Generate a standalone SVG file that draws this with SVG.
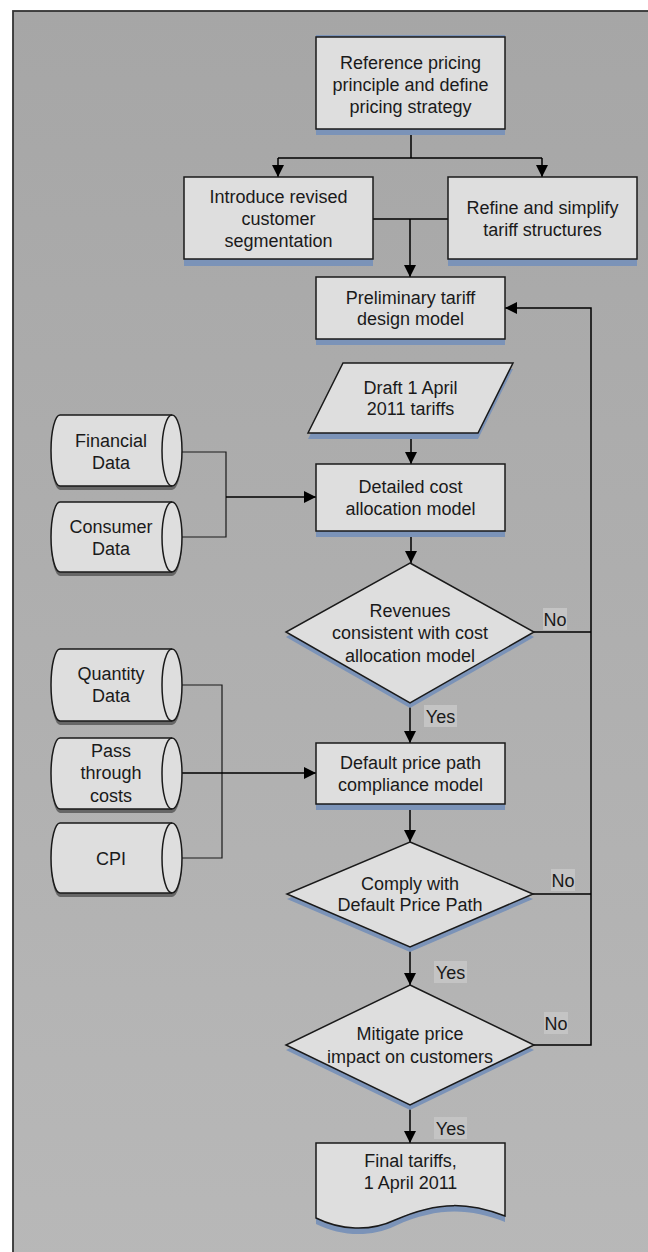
<svg xmlns="http://www.w3.org/2000/svg" width="648" height="1252" viewBox="0 0 648 1252">
<defs>
<linearGradient id="bg" x1="0" y1="0" x2="0" y2="1">
<stop offset="0" stop-color="#a6a6a6"/>
<stop offset="1" stop-color="#b8b8b8"/>
</linearGradient>
<marker id="arr" viewBox="0 0 12 12" refX="12" refY="6" markerWidth="12" markerHeight="12" markerUnits="userSpaceOnUse" orient="auto">
<path d="M0,0 L12,6 L0,12 Z" fill="#000"/>
</marker>
</defs>
<style>
.box{fill:#dedede;stroke:#1a1a1a;stroke-width:1.5}
.sh{fill:#7b93b8}
.csh{fill:#666}
.t{font-family:"Liberation Sans",Arial,sans-serif;font-size:18px;fill:#1a1a1a;text-anchor:middle}
.lbl{fill:#c4c4c4}
.c{fill:none;stroke:#000;stroke-width:1.5}
.ci{fill:none;stroke:#1a1a1a;stroke-width:1.2}
.edge{fill:none;stroke:#1a1a1a;stroke-width:1.5}
</style>
<rect x="0" y="0" width="648" height="1252" fill="#fff"/>
<rect x="13" y="11" width="660" height="1260" fill="url(#bg)" stroke="#333" stroke-width="1.8"/>

<g id="connectors">
<path class="c" d="M411,129 V158 M278,158 H542"/>
<path class="c" d="M278,158 V177" marker-end="url(#arr)"/>
<path class="c" d="M542,158 V177" marker-end="url(#arr)"/>
<path class="c" d="M373,219 H448"/>
<path class="c" d="M410,219 V277" marker-end="url(#arr)"/>
<path class="c" d="M411,433 V464" marker-end="url(#arr)"/>
<path class="ci" d="M182,452 H226 V537 H182"/>
<path class="c" d="M226,497 H316" marker-end="url(#arr)"/>
<path class="c" d="M411,531 V563" marker-end="url(#arr)"/>
<path class="c" d="M534,632 H591"/>
<path class="c" d="M410,703 V743" marker-end="url(#arr)"/>
<path class="ci" d="M182,685 H222 V858 H182"/>
<path class="c" d="M182,773 H316" marker-end="url(#arr)"/>
<path class="c" d="M410,804 V842" marker-end="url(#arr)"/>
<path class="c" d="M533,894 H591"/>
<path class="c" d="M410,947 V985" marker-end="url(#arr)"/>
<path class="c" d="M534,1045 H591 V308 H505" marker-end="url(#arr)"/>
<path class="c" d="M410,1105 V1143" marker-end="url(#arr)"/>
<rect class="lbl" x="543" y="608" width="24" height="22"/>
<text class="t" x="555" y="626">No</text>
<rect class="lbl" x="424" y="705" width="33" height="22"/>
<text class="t" x="440.5" y="723">Yes</text>
<rect class="lbl" x="551" y="869" width="24" height="22"/>
<text class="t" x="563" y="887">No</text>
<rect class="lbl" x="434" y="961" width="33" height="22"/>
<text class="t" x="450.5" y="979">Yes</text>
<rect class="lbl" x="544" y="1012" width="24" height="22"/>
<text class="t" x="556" y="1030">No</text>
<rect class="lbl" x="434" y="1117" width="33" height="22"/>
<text class="t" x="450.5" y="1135">Yes</text>
</g>

<g id="n-reference">
<rect class="sh" x="316" y="35" width="189" height="100"/>
<rect class="box" x="316" y="37" width="189" height="92"/>
<text class="t" x="410.5" y="68.5">Reference pricing</text>
<text class="t" x="410.5" y="90.5">principle and define</text>
<text class="t" x="410.5" y="112.5">pricing strategy</text>
</g>

<g id="n-introduce">
<rect class="sh" x="184" y="180" width="189" height="86"/>
<rect class="box" x="184" y="177" width="189" height="82"/>
<text class="t" x="278.5" y="202.5">Introduce revised</text>
<text class="t" x="278.5" y="224.5">customer</text>
<text class="t" x="278.5" y="247">segmentation</text>
</g>

<g id="n-refine">
<rect class="sh" x="448" y="180" width="189" height="86"/>
<rect class="box" x="448" y="177" width="189" height="82"/>
<text class="t" x="542.5" y="213.5">Refine and simplify</text>
<text class="t" x="542.5" y="235.5">tariff structures</text>
</g>

<g id="n-preliminary">
<rect class="sh" x="316" y="280" width="189" height="65"/>
<rect class="box" x="316" y="277" width="189" height="62"/>
<text class="t" x="410.5" y="303.5">Preliminary tariff</text>
<text class="t" x="410.5" y="325">design model</text>
</g>

<g id="n-draft">
<path class="sh" d="M343,369 H513 L478,439 H308 Z"/>
<path class="box" d="M343,363 H513 L478,433 H308 Z"/>
<text class="t" x="410.5" y="393.5">Draft 1 April</text>
<text class="t" x="410.5" y="414.5">2011 tariffs</text>
</g>

<g id="n-detailed">
<rect class="sh" x="316" y="467" width="189" height="70"/>
<rect class="box" x="316" y="464" width="189" height="67"/>
<text class="t" x="410.5" y="492.5">Detailed cost</text>
<text class="t" x="410.5" y="514.5">allocation model</text>
</g>

<g id="n-financial">
<path class="csh" d="M60,419 H172 A10,35.5 0 0 1 172,490 H60 A9,35.5 0 0 1 60,419 Z"/>
<path class="box" d="M60,415 H172 A10,35.5 0 0 1 172,486 H60 A9,35.5 0 0 1 60,415 Z"/>
<path class="edge" d="M172,415 A10,35.5 0 0 0 172,486"/>
<text class="t" x="111" y="446.5">Financial</text>
<text class="t" x="111" y="468.5">Data</text>
</g>

<g id="n-consumer">
<path class="csh" d="M60,506 H172 A10,35 0 0 1 172,576 H60 A9,35 0 0 1 60,506 Z"/>
<path class="box" d="M60,502 H172 A10,35 0 0 1 172,572 H60 A9,35 0 0 1 60,502 Z"/>
<path class="edge" d="M172,502 A10,35 0 0 0 172,572"/>
<text class="t" x="111" y="532.5">Consumer</text>
<text class="t" x="111" y="554.5">Data</text>
</g>

<g id="n-revenues">
<path class="sh" d="M410,568 L534,637 L410,708 L286,637 Z"/>
<path class="box" d="M410,563 L534,632 L410,703 L286,632 Z"/>
<text class="t" x="410" y="616.5">Revenues</text>
<text class="t" x="410" y="639">consistent with cost</text>
<text class="t" x="410" y="661.5">allocation model</text>
</g>

<g id="n-quantity">
<path class="csh" d="M60,653 H172 A10,36 0 0 1 172,725 H60 A9,36 0 0 1 60,653 Z"/>
<path class="box" d="M60,649 H172 A10,36 0 0 1 172,721 H60 A9,36 0 0 1 60,649 Z"/>
<path class="edge" d="M172,649 A10,36 0 0 0 172,721"/>
<text class="t" x="111" y="679.5">Quantity</text>
<text class="t" x="111" y="701.5">Data</text>
</g>

<g id="n-pass">
<path class="csh" d="M60,742 H172 A10,35.5 0 0 1 172,813 H60 A9,35.5 0 0 1 60,742 Z"/>
<path class="box" d="M60,738 H172 A10,35.5 0 0 1 172,809 H60 A9,35.5 0 0 1 60,738 Z"/>
<path class="edge" d="M172,738 A10,35.5 0 0 0 172,809"/>
<text class="t" x="111" y="756.5">Pass</text>
<text class="t" x="111" y="779">through</text>
<text class="t" x="111" y="801.5">costs</text>
</g>

<g id="n-cpi">
<path class="csh" d="M60,827 H172 A10,35 0 0 1 172,897 H60 A9,35 0 0 1 60,827 Z"/>
<path class="box" d="M60,823 H172 A10,35 0 0 1 172,893 H60 A9,35 0 0 1 60,823 Z"/>
<path class="edge" d="M172,823 A10,35 0 0 0 172,893"/>
<text class="t" x="111" y="864.5">CPI</text>
</g>

<g id="n-default">
<rect class="sh" x="316" y="746" width="189" height="64"/>
<rect class="box" x="316" y="743" width="189" height="61"/>
<text class="t" x="410.5" y="768.5">Default price path</text>
<text class="t" x="410.5" y="790.5">compliance model</text>
</g>

<g id="n-comply">
<path class="sh" d="M410,847 L533,899 L410,952 L287,899 Z"/>
<path class="box" d="M410,842 L533,894 L410,947 L287,894 Z"/>
<text class="t" x="410" y="889.5">Comply with</text>
<text class="t" x="410" y="910.5">Default Price Path</text>
</g>

<g id="n-mitigate">
<path class="sh" d="M410,990 L534,1050 L410,1110 L286,1050 Z"/>
<path class="box" d="M410,985 L534,1045 L410,1105 L286,1045 Z"/>
<text class="t" x="410" y="1039.5">Mitigate price</text>
<text class="t" x="410" y="1062.5">impact on customers</text>
</g>

<g id="n-final">
<path class="sh" d="M316,1146 H505 V1222 C470,1209 440,1206 395,1226 C370,1238 340,1236 316,1224 Z"/>
<path class="box" d="M316,1143 H505 V1216 C470,1203 440,1200 395,1220 C370,1232 340,1230 316,1218 Z"/>
<text class="t" x="410.5" y="1166.5">Final tariffs,</text>
<text class="t" x="410.5" y="1188.5">1 April 2011</text>
</g>
</svg>
